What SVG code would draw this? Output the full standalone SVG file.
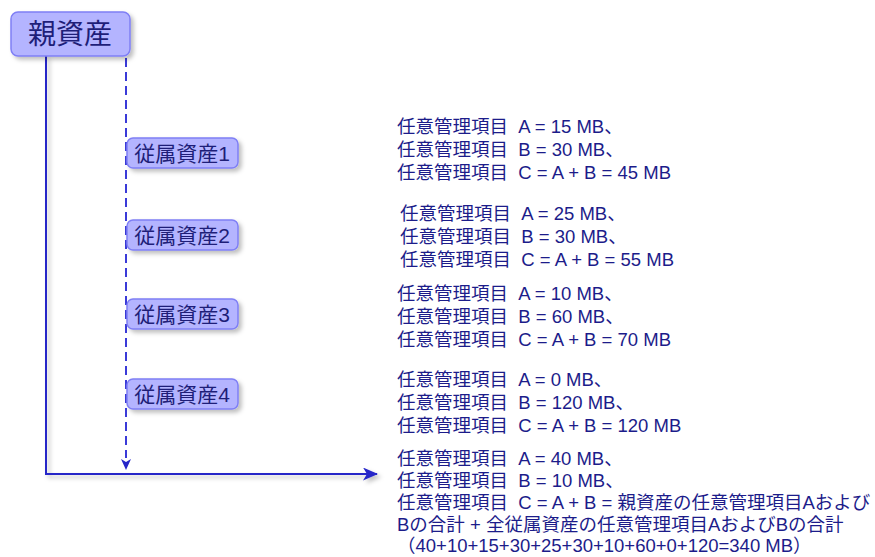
<svg xmlns="http://www.w3.org/2000/svg" width="875" height="557" viewBox="0 0 875 557">
<defs>
<filter id="sh" x="-20%" y="-20%" width="150%" height="160%">
<feDropShadow dx="3" dy="3" stdDeviation="2" flood-color="#000" flood-opacity="0.25"/>
</filter>
<marker id="ah" markerWidth="15" markerHeight="13" refX="14" refY="6.5" orient="auto" markerUnits="userSpaceOnUse">
<path d="M0,0 L15,6.5 L0,13 L4,6.5 Z" fill="#2626c8"/>
</marker>
</defs>
<style>
.node rect{fill:#b4b4ff;stroke:#7f7ff5;stroke-width:1.5;filter:url(#sh)}
.lbl{font-family:"Liberation Sans","Noto Sans CJK JP",sans-serif;fill:#1e1e78;text-anchor:middle}
.ln{stroke:#2626c8;stroke-width:2;fill:none;filter:url(#sh)}
.dash{stroke:#3a3ad8;stroke-width:2;fill:none;stroke-dasharray:9 5}
.t{font-family:"Liberation Sans","Noto Sans CJK JP",sans-serif;font-size:18.5px;fill:#1c1c8a;white-space:pre}
</style>
<g id="connectors">
<path class="ln" d="M46,56 V474 H377" marker-end="url(#ah)"/>
<path class="dash" d="M126,58 V458"/>
<path d="M121,459 L126,470 L131,459 L126,462 Z" fill="#2626c8"/>
<path class="ln" d="M238,153 H377" marker-end="url(#ah)"/>
<path class="ln" d="M238,235 H377" marker-end="url(#ah)"/>
<path class="ln" d="M238,314 H377" marker-end="url(#ah)"/>
<path class="ln" d="M238,394 H377" marker-end="url(#ah)"/>
</g>
<g id="parent" class="node">
<rect x="11" y="12" width="119" height="44" rx="7"/>
<text class="lbl" x="70" y="44" font-size="28">親資産</text>
</g>
<g id="child1" class="node">
<rect x="127" y="138" width="111" height="30" rx="6"/>
<text class="lbl" x="182" y="161" font-size="21">従属資産1</text>
</g>
<g id="child2" class="node">
<rect x="127" y="220" width="111" height="30" rx="6"/>
<text class="lbl" x="182" y="243" font-size="21">従属資産2</text>
</g>
<g id="child3" class="node">
<rect x="127" y="299" width="111" height="30" rx="6"/>
<text class="lbl" x="182" y="322" font-size="21">従属資産3</text>
</g>
<g id="child4" class="node">
<rect x="127" y="379" width="111" height="30" rx="6"/>
<text class="lbl" x="182" y="402" font-size="21">従属資産4</text>
</g>
<g id="text1">
<text class="t" x="397" y="133">任意管理項目  A = 15 MB、</text>
<text class="t" x="397" y="156">任意管理項目  B = 30 MB、</text>
<text class="t" x="397" y="179">任意管理項目  C = A + B = 45 MB</text>
</g>
<g id="text2">
<text class="t" x="400" y="220">任意管理項目  A = 25 MB、</text>
<text class="t" x="400" y="243">任意管理項目  B = 30 MB、</text>
<text class="t" x="400" y="266">任意管理項目  C = A + B = 55 MB</text>
</g>
<g id="text3">
<text class="t" x="397" y="300">任意管理項目  A = 10 MB、</text>
<text class="t" x="397" y="323">任意管理項目  B = 60 MB、</text>
<text class="t" x="397" y="346">任意管理項目  C = A + B = 70 MB</text>
</g>
<g id="text4">
<text class="t" x="397" y="386">任意管理項目  A = 0 MB、</text>
<text class="t" x="397" y="409">任意管理項目  B = 120 MB、</text>
<text class="t" x="397" y="432">任意管理項目  C = A + B = 120 MB</text>
</g>
<g id="text5">
<text class="t" x="397" y="465">任意管理項目  A = 40 MB、</text>
<text class="t" x="397" y="487">任意管理項目  B = 10 MB、</text>
<text class="t" x="397" y="509">任意管理項目  C = A + B = 親資産の任意管理項目Aおよび</text>
<text class="t" x="397" y="531">Bの合計 + 全従属資産の任意管理項目AおよびBの合計</text>
<text class="t" x="397" y="552">（40+10+15+30+25+30+10+60+0+120=340 MB）</text>
</g>
</svg>
